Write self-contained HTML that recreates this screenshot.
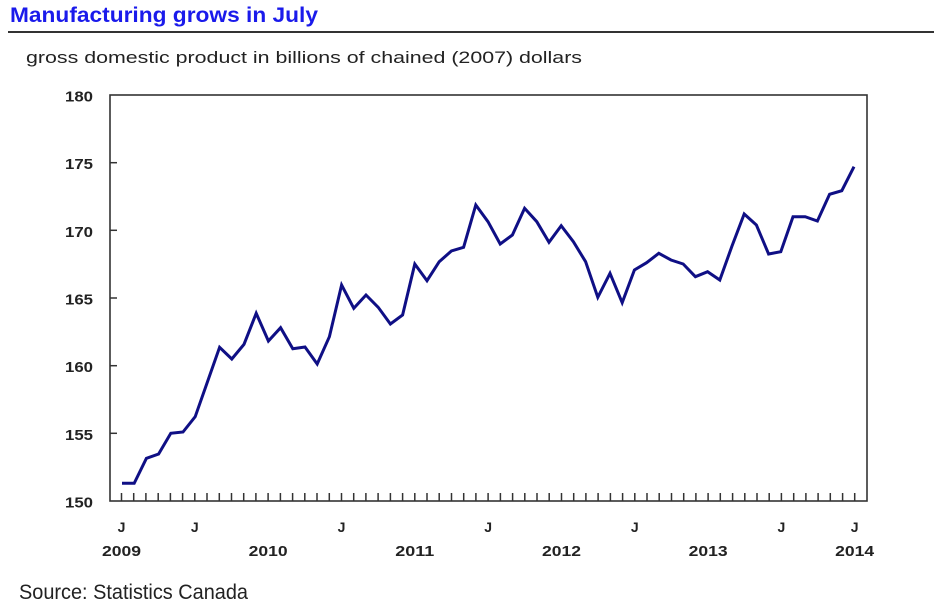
<!DOCTYPE html>
<html>
<head>
<meta charset="utf-8">
<style>
  html, body { margin: 0; padding: 0; background: #ffffff; }
  svg { display: block; }
  text { font-family: "Liberation Sans", "DejaVu Sans", sans-serif; }
</style>
</head>
<body>
<svg width="934" height="614" viewBox="0 0 934 614" xmlns="http://www.w3.org/2000/svg">
  <rect x="0" y="0" width="934" height="614" fill="#ffffff"/>
  <!-- Title -->
  <text x="10" y="22" font-size="21" font-weight="bold" fill="#1a1aeb" textLength="308" lengthAdjust="spacingAndGlyphs">Manufacturing grows in July</text>
  <line x1="8" y1="32" x2="934" y2="32" stroke="#333333" stroke-width="2"/>
  <!-- Subtitle -->
  <text x="26" y="63" font-size="17" fill="#222222" textLength="556" lengthAdjust="spacingAndGlyphs">gross domestic product in billions of chained (2007) dollars</text>

  <!-- Frame -->
  <rect x="110" y="95" width="757" height="406" fill="none" stroke="#333333" stroke-width="1.6"/>

  <!-- Y ticks -->
  <g stroke="#333333" stroke-width="1.5">
    <line x1="110" y1="162.7" x2="117" y2="162.7"/>
    <line x1="110" y1="230.3" x2="117" y2="230.3"/>
    <line x1="110" y1="298" x2="117" y2="298"/>
    <line x1="110" y1="365.7" x2="117" y2="365.7"/>
    <line x1="110" y1="433.3" x2="117" y2="433.3"/>
  </g>

  <!-- Y labels -->
  <g font-size="15" font-weight="bold" fill="#222222" text-anchor="end">
    <text x="93" y="101.5" textLength="28" lengthAdjust="spacingAndGlyphs">180</text>
    <text x="93" y="169.2" textLength="28" lengthAdjust="spacingAndGlyphs">175</text>
    <text x="93" y="236.8" textLength="28" lengthAdjust="spacingAndGlyphs">170</text>
    <text x="93" y="304.5" textLength="28" lengthAdjust="spacingAndGlyphs">165</text>
    <text x="93" y="372.2" textLength="28" lengthAdjust="spacingAndGlyphs">160</text>
    <text x="93" y="439.8" textLength="28" lengthAdjust="spacingAndGlyphs">155</text>
    <text x="93" y="507.5" textLength="28" lengthAdjust="spacingAndGlyphs">150</text>
  </g>

  <!-- X labels (J) -->
  <g font-size="14" font-weight="bold" fill="#222222" text-anchor="middle">
    <text x="121.5" y="532">J</text>
    <text x="194.8" y="532">J</text>
    <text x="341.5" y="532">J</text>
    <text x="488.1" y="532">J</text>
    <text x="634.8" y="532">J</text>
    <text x="781.4" y="532">J</text>
    <text x="854.7" y="532">J</text>
  </g>
  <!-- Year labels -->
  <g font-size="15" font-weight="bold" fill="#222222" text-anchor="middle">
    <text x="121.5" y="556" textLength="39" lengthAdjust="spacingAndGlyphs">2009</text>
    <text x="268.1" y="556" textLength="39" lengthAdjust="spacingAndGlyphs">2010</text>
    <text x="414.8" y="556" textLength="39" lengthAdjust="spacingAndGlyphs">2011</text>
    <text x="561.5" y="556" textLength="39" lengthAdjust="spacingAndGlyphs">2012</text>
    <text x="708.1" y="556" textLength="39" lengthAdjust="spacingAndGlyphs">2013</text>
    <text x="854.7" y="556" textLength="39" lengthAdjust="spacingAndGlyphs">2014</text>
  </g>

  <!-- Data line -->
  <polyline fill="none" stroke="#0f0f85" stroke-width="3" stroke-linejoin="miter" stroke-linecap="butt"
    points="
122,483.3 134.2,483.3 146.4,458.3 158.6,454 170.8,433.3 183,432 195.2,416.7 207.4,382
219.6,347.3 231.8,359 244,344.3 256.2,313.3 268.4,341 280.6,327.7 292.8,348.7 305,347
317.2,364 329.4,336.7 341.6,285 353.8,308.3 366,295 378.2,307.3 390.4,324 402.6,315
414.8,264 427,280.7 439.2,261.7 451.4,251 463.6,247.3 475.8,205 488,221.7 500.2,244
512.4,235 524.6,208.3 536.8,221.7 549,242.3 561.2,225.7 573.4,241.7 585.6,261.7 597.8,297.3
610,273.3 622.2,302.7 634.4,270 646.6,262.7 658.8,253.3 671,260 683.2,264 695.4,276.7
707.6,271.7 719.8,280 732,246 744.2,214 756.4,225 768.6,254 780.8,251.7 793,216.7
805.2,216.7 817.4,221 829.6,194.3 841.8,190.7 854,166.7"/>

  <!-- Source -->
  <text x="19" y="599" font-size="21" fill="#222222" textLength="229" lengthAdjust="spacingAndGlyphs">Source: Statistics Canada</text>

  <!-- X ticks -->
  <g stroke="#333333" stroke-width="1.5">
    <path d="M121.5 493V501M133.7 493V501M145.9 493V501M158.2 493V501M170.4 493V501M182.6 493V501M194.8 493V501M207 493V501M219.3 493V501M231.5 493V501M243.7 493V501M255.9 493V501M268.1 493V501M280.4 493V501M292.6 493V501M304.8 493V501M317 493V501M329.3 493V501M341.5 493V501M353.7 493V501M365.9 493V501M378.1 493V501M390.4 493V501M402.6 493V501M414.8 493V501M427 493V501M439.2 493V501M451.5 493V501M463.7 493V501M475.9 493V501M488.1 493V501M500.4 493V501M512.6 493V501M524.8 493V501M537 493V501M549.2 493V501M561.5 493V501M573.7 493V501M585.9 493V501M598.1 493V501M610.4 493V501M622.6 493V501M634.8 493V501M647 493V501M659.2 493V501M671.5 493V501M683.7 493V501M695.9 493V501M708.1 493V501M720.3 493V501M732.6 493V501M744.8 493V501M757 493V501M769.2 493V501M781.4 493V501M793.7 493V501M805.9 493V501M818.1 493V501M830.3 493V501M842.6 493V501M854.7 493V501"/>
  </g>
</svg>
</body>
</html>
